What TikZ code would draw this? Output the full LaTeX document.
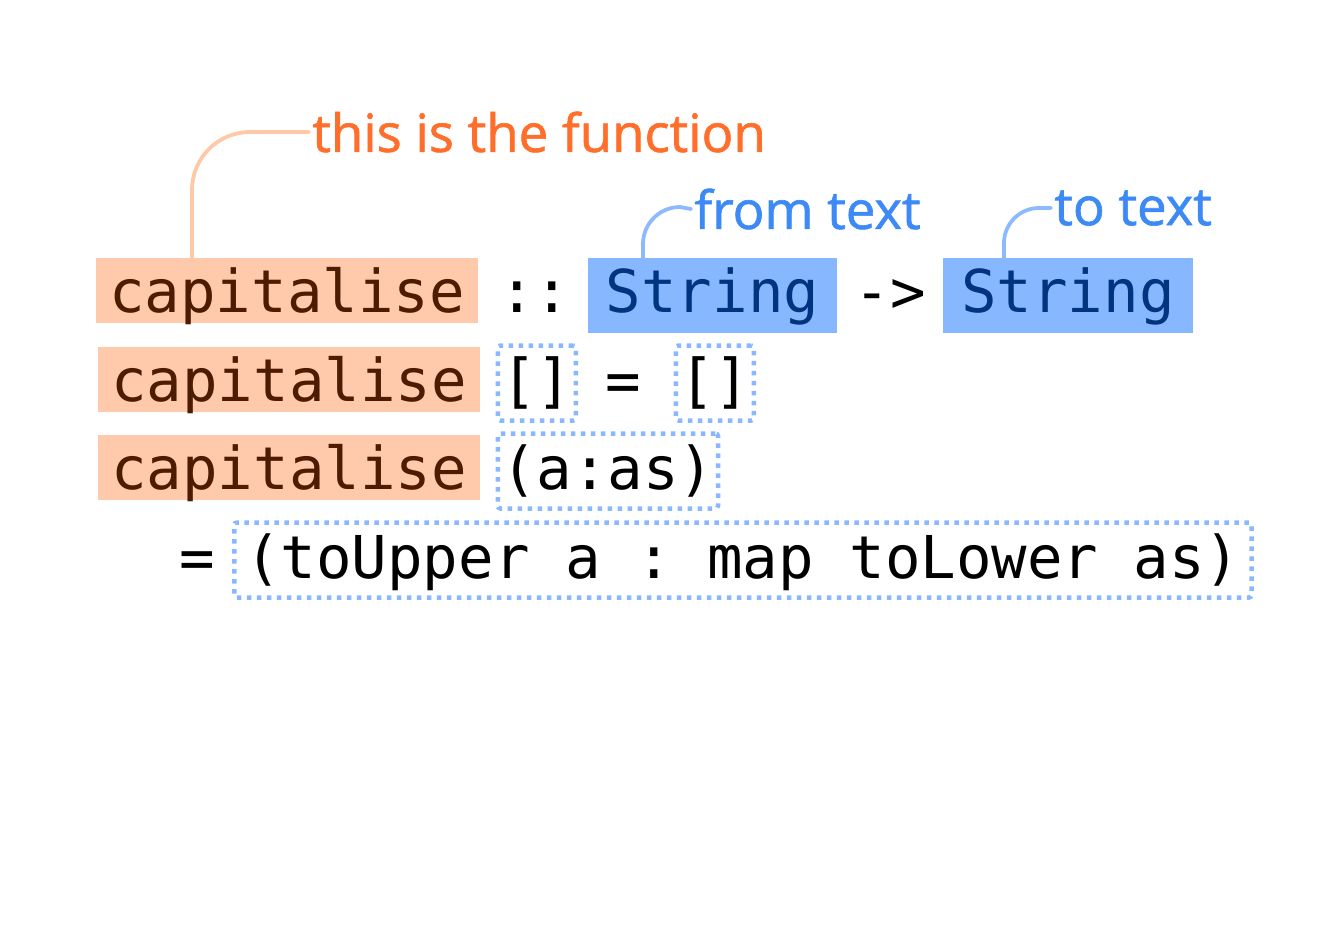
\documentclass[tikz,border=0pt]{standalone}
\usepackage{fontspec}
\usepackage{xcolor}
\usepackage{tikz}
\usetikzlibrary{positioning, calc}
\newfontfamily\hsmono{DejaVu Sans Mono}
\newfontfamily\handfont[FakeBold=1.2]{Open Sans}
\definecolor{fnfill}{HTML}{FFCAAB}
\definecolor{fnline}{HTML}{FFC8A6}
\definecolor{fntext}{HTML}{FF6F2B}
\definecolor{fnbrown}{HTML}{4D1B00}
\definecolor{typefill}{HTML}{87B8FF}
\definecolor{typetext}{HTML}{003380}
\definecolor{typenote}{HTML}{3D8AF7}
\definecolor{typeline}{HTML}{8DBAFF}
\definecolor{patblue}{HTML}{8AB8FF}

\begin{document}
\begin{tikzpicture}[
    code/.style={inner sep=0pt, anchor=base west, font=\hsmono\fontsize{33.6}{40}\selectfont\frenchspacing},
    fnbox/.style={code, fill=fnfill, text=fnbrown, inner xsep=0.26cm, text height=1.08cm, text depth=0.22cm},
    typebox/.style={code, fill=typefill, text=typetext, inner xsep=0.36cm, text height=1.08cm, text depth=0.42cm},
    patbox/.style={code, draw=patblue, line width=0.09cm, dash pattern=on 0.09cm off 0.11cm, rounded corners=1.5pt, inner xsep=0.07cm, text height=1.11cm, text depth=0.39cm},
    note/.style={anchor=west, inner sep=0.06cm, font=\handfont\fontsize{30}{34}\selectfont},
    noteline/.style={line width=0.075cm, line cap=round}
]
\useasboundingbox (0,0) rectangle (26.46,-18.64);

% type signature
\node[fnbox] (fnsig) at (1.92,-6.24) {capitalise};
\node[code] (sigcolon) at (9.98,-6.24) {::};
\node[typebox] (fromtype) at (11.75,-6.24) {String};
\node[code] (sigarrow) at (17.09,-6.24) {->};
\node[typebox] (totype) at (18.86,-6.24) {String};

% empty list case
\node[fnbox] (fnempty) at (1.96,-8.02) {capitalise};
\node[patbox] (emptyin) at (9.91,-8.02) {[]};
\node[code] (emptyeq) at (12.11,-8.02) {=};
\node[patbox] (emptyout) at (13.47,-8.02) {[]};

% cons case
\node[fnbox] (fncons) at (1.96,-9.78) {capitalise};
\node[patbox] (consin) at (9.91,-9.78) {(a:as)};
\node[code] (conseq) at (3.58,-11.56) {=};
\node[patbox, inner xsep=0.22cm] (consout) at (4.64,-11.56) {(toUpper a : map toLower as)};

% notes
\node[note, text=fntext] (fnnote) at (6.18,-2.64) {this is the function};
\node[note, text=typenote] (fromnote) at (13.82,-4.18) {from text};
\node[note, text=typenote] (tonote) at (21.02,-4.16) {to text};

\coordinate (fnfoot) at (3.84,-5.16);
\coordinate (fromfoot) at (12.86,-5.16);
\coordinate (tofoot) at (20.08,-5.16);

\draw[noteline, fnline] (fnfoot) -- ++(0,1.36) arc[start angle=180, end angle=90, radius=1.16] -- (fnnote.west);
\draw[noteline, typeline] (fromfoot) -- ++(0,0.28) arc[start angle=180, end angle=90, radius=0.74] -- (fromnote.west);
\draw[noteline, typeline] (tofoot) -- ++(0,0.3) arc[start angle=180, end angle=90, radius=0.7] -- (tonote.west);

\end{tikzpicture}
\end{document}
